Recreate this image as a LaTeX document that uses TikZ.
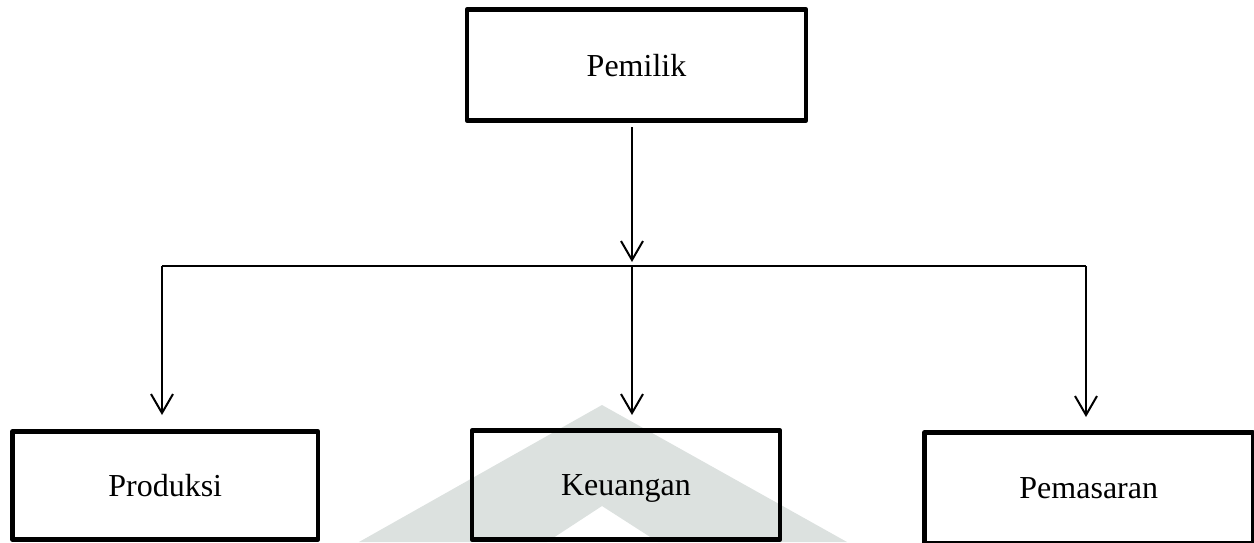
\documentclass[tikz,border=0pt]{standalone}
\usepackage{fontspec}
\setmainfont{Liberation Serif}
\usetikzlibrary{arrows.meta}
\definecolor{wmark}{RGB}{220,225,223}
\tikzset{
  orgbox/.style={draw=black, line width=4.5pt, line join=round, inner sep=0pt,
    text depth=0pt, font=\fontsize{32}{38}\selectfont},
  conn/.style={line width=2pt},
  arr/.style={line width=2pt, -{Straight Barb[length=19pt,width=22pt]}}
}
\begin{document}
\begin{tikzpicture}[x=1pt,y=-1pt]
\useasboundingbox (0,0) rectangle (1254,542);
\clip (0,0) rectangle (1254,542);
% watermark
\fill[wmark] (602,405) -- (847,542) -- (658,542) -- (602,506) -- (547,542) -- (359,542) -- cycle;
% boxes
\node[orgbox, minimum width=339pt, minimum height=111pt] (pemilik) at (636.5,65) {Pemilik};
\node[orgbox, minimum width=305.5pt, minimum height=108pt] (produksi) at (165.25,485.5) {Produksi};
\node[orgbox, minimum width=308pt, minimum height=109pt] (keuangan) at (626,485) {Keuangan};
\node[orgbox, minimum width=328.5pt, minimum height=111pt] (pemasaran) at (1088.75,488) {Pemasaran};
% connector points
\coordinate (start) at (632,127);
\coordinate (tip) at (632,262);
\coordinate (jl) at (162,266);
\coordinate (jc) at (632,266);
\coordinate (jr) at (1086,266);
\coordinate (tl) at (162,415);
\coordinate (tc) at (632,415);
\coordinate (tr) at (1086,417);
\draw[arr] (start) -- (tip);
\draw[conn] (jl) -- (jr);
\draw[arr] (jl) -- (tl);
\draw[arr] (jc) -- (tc);
\draw[arr] (jr) -- (tr);
\end{tikzpicture}
\end{document}
